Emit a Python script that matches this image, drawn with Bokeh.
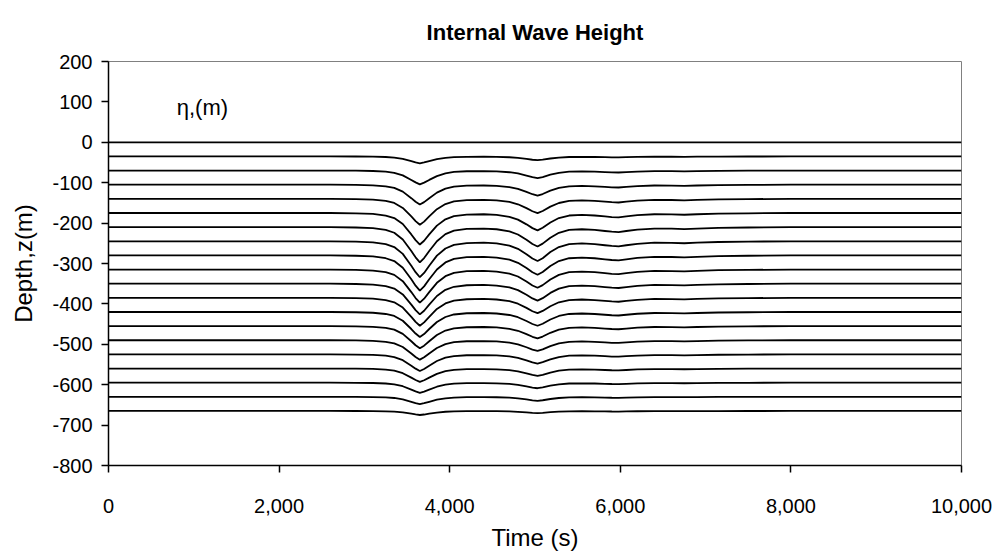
from bokeh.plotting import figure
from bokeh.models import FixedTicker, NumeralTickFormatter, Label, Range1d
from bokeh.embed import file_html
from bokeh.resources import INLINE

# Rest depth of each isopycnal (m)
depths = [0, -35, -70, -105, -140, -175, -210, -245, -280, -315,
          -350, -385, -420, -455, -490, -525, -560, -595, -630, -665]

# Peak displacement of the leading trough at each depth (m)
amplitudes = [0, 17, 34, 49, 64, 78, 87, 89, 87, 82,
              76, 69, 62, 55, 48, 41, 33, 25, 18, 10]

# Time samples (s) and the normalised wave-train displacement
times = [0, 2600, 2900, 3100, 3250, 3350, 3450, 3550, 3600, 3650,
         3700, 3760, 3850, 3950, 4050, 4200, 4400, 4550, 4700, 4800,
         4900, 4970, 5030, 5090, 5180, 5280, 5400, 5550, 5700, 5820,
         5900, 5980, 6070, 6200, 6400, 6600, 6750, 6900, 7150, 7500,
         8000, 10000]
shape = [0.0, 0.0, -0.01, -0.03, -0.08, -0.16, -0.35, -0.68, -0.86, -1.00,
         -0.88, -0.68, -0.40, -0.20, -0.10, -0.05, -0.04, -0.06, -0.12, -0.21,
         -0.36, -0.48, -0.55, -0.47, -0.30, -0.16, -0.08, -0.06, -0.08, -0.11,
         -0.13, -0.14, -0.11, -0.07, -0.04, -0.045, -0.055, -0.04, -0.02, -0.01,
         0.0, 0.0]

x_ticks = [0, 2000, 4000, 6000, 8000, 10000]
y_ticks = [200, 100, 0, -100, -200, -300, -400, -500, -600, -700, -800]

FONT = "Liberation Sans"

p = figure(width=996, height=553, output_backend="svg", toolbar_location=None,
           x_range=Range1d(0, 10000), y_range=Range1d(-800, 200),
           min_border_left=108, min_border_right=35,
           min_border_top=61, min_border_bottom=87)

p.title.text = "Internal Wave Height"
p.title.align = "center"
p.title.text_font = FONT
p.title.text_font_size = "22px"
p.title.text_font_style = "bold"
p.title.text_color = "black"
p.title.standoff = 34

# one line per isopycnal: rest depth plus displacement
xs, ys = [], []
for d, a in zip(depths, amplitudes):
    xs.append(times)
    ys.append([d + a * s for s in shape])
p.multi_line(xs, ys, line_color="black", line_width=1.8)

p.add_layout(Label(x=800, y=87, text="η,(m)", text_font=FONT,
                   text_font_size="22px", text_color="black",
                   text_baseline="middle"))

p.xgrid.visible = False
p.ygrid.visible = False
p.outline_line_color = "#808080"
p.outline_line_width = 1
p.background_fill_color = "white"
p.border_fill_color = "white"

xa = p.xaxis[0]
xa.ticker = FixedTicker(ticks=x_ticks)
xa.formatter = NumeralTickFormatter(format="0,0")
xa.axis_label = "Time (s)"
xa.major_label_standoff = 26
xa.axis_label_standoff = 8

ya = p.yaxis[0]
ya.ticker = FixedTicker(ticks=y_ticks)
ya.formatter = NumeralTickFormatter(format="0")
ya.axis_label = "Depth,z(m)"
ya.major_label_standoff = 9
ya.axis_label_standoff = 12

for ax in (xa, ya):
    ax.axis_line_color = "black"
    ax.axis_line_width = 1.5
    ax.major_tick_line_color = "black"
    ax.major_tick_line_width = 1.5
    ax.major_tick_out = 7
    ax.major_tick_in = 0
    ax.minor_tick_out = 0
    ax.minor_tick_in = 0
    ax.major_label_text_font = FONT
    ax.major_label_text_font_size = "20px"
    ax.major_label_text_color = "black"
    ax.axis_label_text_font = FONT
    ax.axis_label_text_font_size = "24px"
    ax.axis_label_text_font_style = "normal"
    ax.axis_label_text_color = "black"

open("out.html", "w").write(file_html(p, INLINE))
